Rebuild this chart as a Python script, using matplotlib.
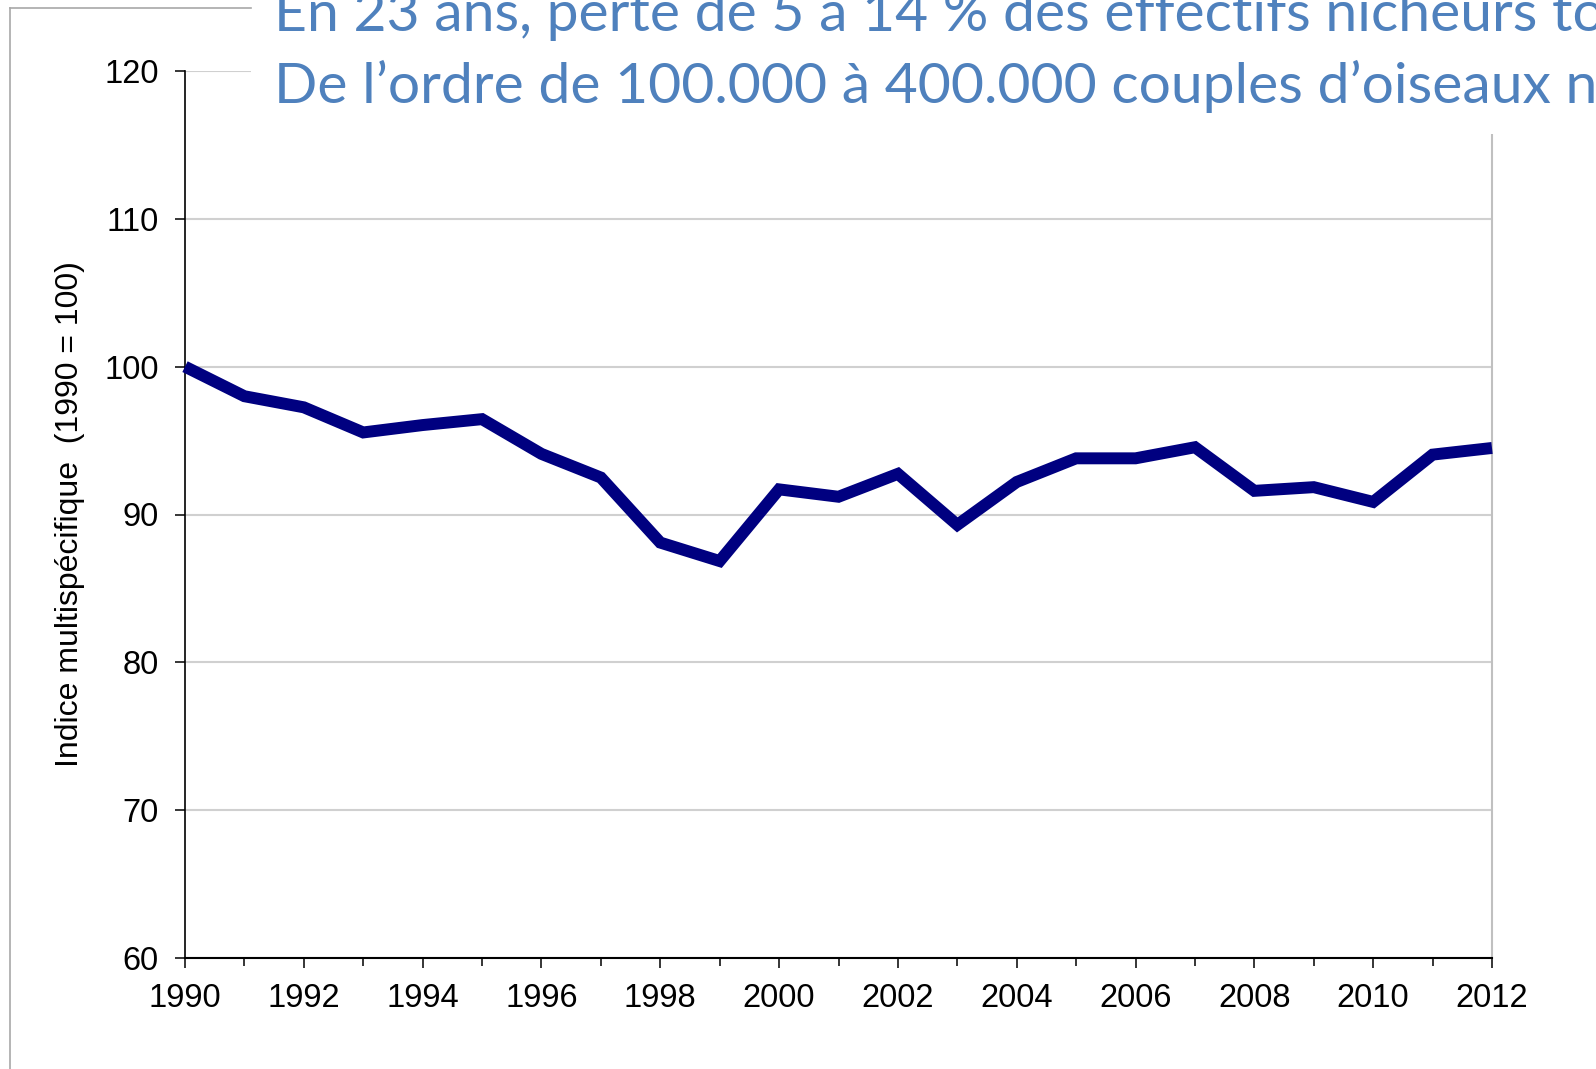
import matplotlib
matplotlib.use("Agg")
import matplotlib.pyplot as plt
from matplotlib.patches import Rectangle
from matplotlib.lines import Line2D
from matplotlib.ticker import MultipleLocator

years = list(range(1990, 2013))
index_values = [100, 98.0, 97.25, 95.55, 96.05, 96.45, 94.1, 92.5, 88.1, 86.85,
                91.7, 91.2, 92.75, 89.3, 92.2, 93.8, 93.8, 94.55, 91.6, 91.85,
                90.85, 94.05, 94.5]
y_ticks = [60, 70, 80, 90, 100, 110, 120]
x_ticks = list(range(1990, 2013, 2))
ylabel = "Indice multispécifique  (1990 = 100)"
title_lines = ["En 23 ans, perte de 5 à 14 % des effectifs nicheurs totaux",
               "De l\u2019ordre de 100.000 à 400.000 couples d\u2019oiseaux nicheurs"]

W, H = 1596, 1069
fig = plt.figure(figsize=(W / 100, H / 100), dpi=100)
fig.patch.set_facecolor("white")

ax = fig.add_axes([185 / W, 1 - 958 / H, (1492 - 185) / W, (958 - 71) / H])
ax.plot(years, index_values, color="#000080", lw=8.6, solid_joinstyle="miter",
        solid_capstyle="butt", zorder=3, clip_on=False)
ax.set_xlim(1990, 2012)
ax.set_ylim(60, 120)
ax.set_yticks(y_ticks)
ax.set_xticks(x_ticks)
ax.xaxis.set_minor_locator(MultipleLocator(1))
ax.grid(axis="y", color="#d0d0d0", lw=1.5, zorder=0)
ax.spines["top"].set_visible(False)
ax.spines["right"].set_color("#c0c0c0")
ax.spines["right"].set_linewidth(1.5)
ax.spines["left"].set_color("black")
ax.spines["bottom"].set_color("black")
ax.spines["left"].set_linewidth(1.2)
ax.spines["bottom"].set_linewidth(1.5)
ax.tick_params(axis="both", which="major", direction="out", length=7, width=1.1,
               labelsize=23.5, colors="black")
ax.tick_params(axis="x", which="minor", direction="out", length=6, width=1.1)
ax.tick_params(axis="x", which="major", pad=11)
ax.tick_params(axis="y", which="major", pad=12)
for lab in ax.get_xticklabels() + ax.get_yticklabels():
    lab.set_fontfamily("Liberation Sans")
ax.set_ylabel(ylabel, fontsize=23, family="Liberation Sans", labelpad=14)

# slide decorations
fig.add_artist(Rectangle((251 / W, 1 - 134 / H), 1 - 251 / W, 134 / H,
                         transform=fig.transFigure, facecolor="white",
                         edgecolor="none", zorder=5))
fig.add_artist(Line2D([10 / W, 10 / W], [0, 1 - 8 / H], transform=fig.transFigure,
                      color="#a8a8a8", lw=1.2, zorder=6))
fig.add_artist(Line2D([10 / W, 251 / W], [1 - 8 / H, 1 - 8 / H], transform=fig.transFigure,
                      color="#a8a8a8", lw=1.2, zorder=6))
fig.text(274 / W, 1 - 31 / H, title_lines[0], color="#4F81BD", fontsize=41,
         family="Lato", ha="left", va="baseline", zorder=7)
fig.text(274 / W, 1 - 103 / H, title_lines[1], color="#4F81BD", fontsize=41,
         family="Lato", ha="left", va="baseline", zorder=7)

fig.savefig("out.png", dpi=100, facecolor="white")
